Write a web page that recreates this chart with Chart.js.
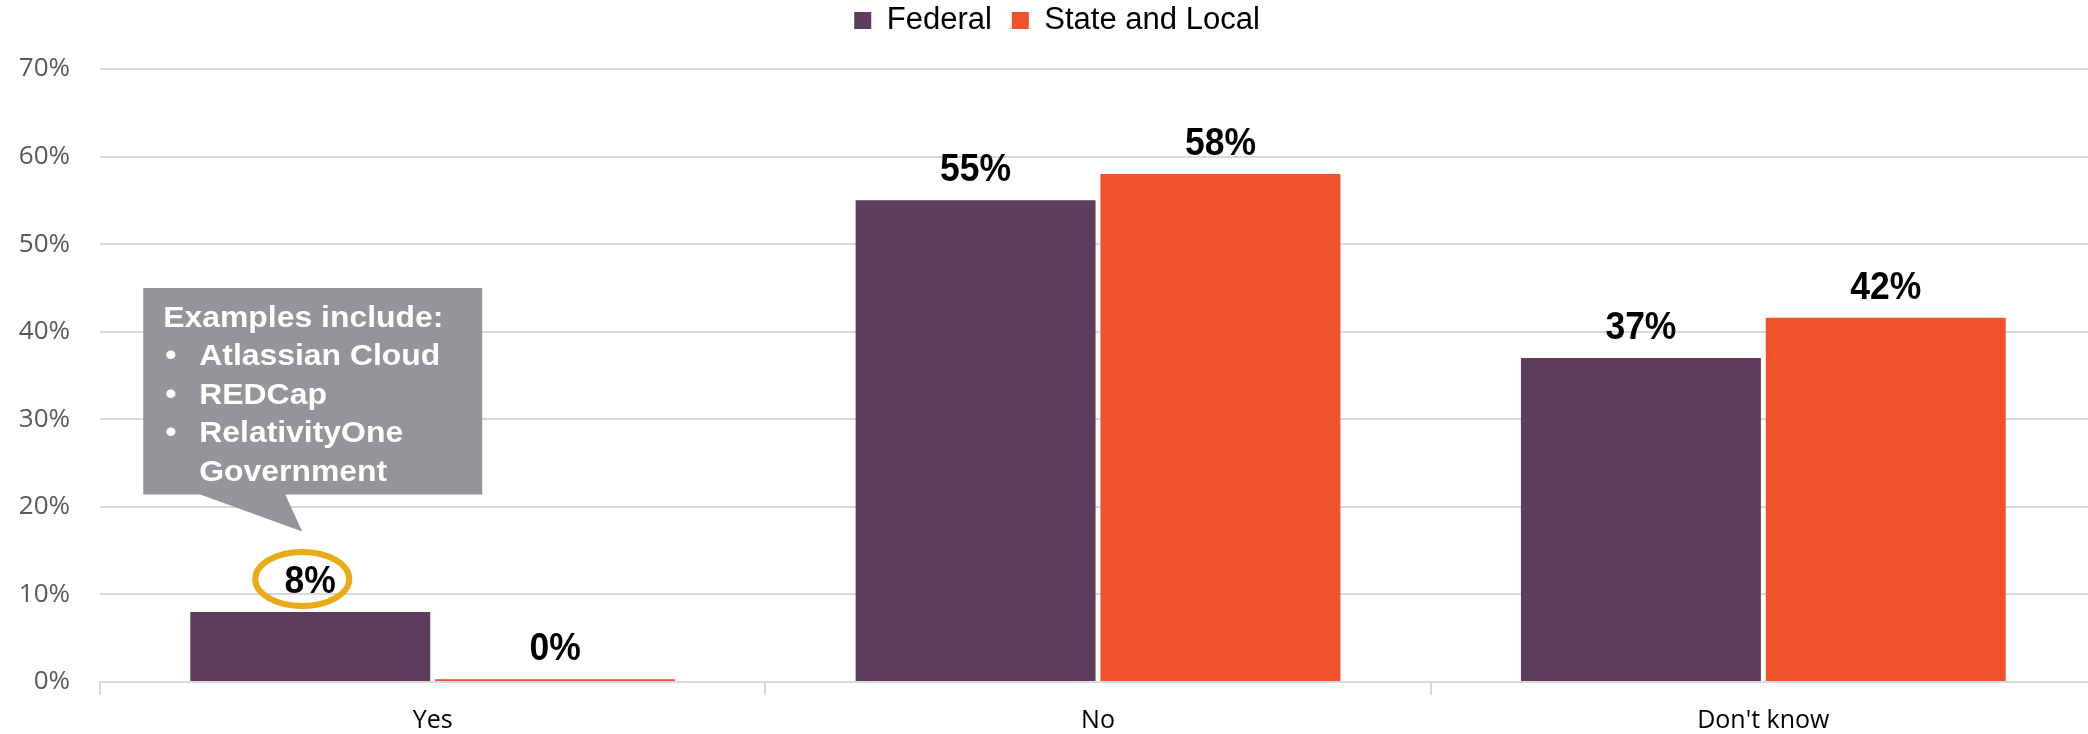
<!DOCTYPE html>
<html>
<head>
<meta charset="utf-8">
<script src="https://cdn.jsdelivr.net/npm/chart.js@4.4.1/dist/chart.umd.min.js"></script>
<style>
html, body { margin: 0; padding: 0; background: #fff; overflow: hidden; }
#wrap { width: 2096px; height: 734px; }
</style>
</head>
<body>
<div id="wrap"><canvas id="answerChart" width="2096" height="734"></canvas></div>
<script>
// values
const categories = ["Yes", "No", "Don't know"];
const federalVals = [8, 55, 37];
const stateLocalVals = [0.3, 58, 41.6];
const seriesNames = ["Federal", "State and Local"];
const calloutTitle = "Examples include:";
const calloutItems = [["Atlassian Cloud"], ["REDCap"], ["RelativityOne", "Government"]];

const labelFont = "'Liberation Sans', Arial, sans-serif";

// push the chart area down below the legend, nudge legend a bit right
const legendGap = {
    id: "legendGap",
    beforeInit(chart) {
        const lg = chart.legend;
        const origFit = lg.fit;
        const origDraw = lg.draw;
        lg.fit = function() { origFit.call(this); this.height += 23; };
        lg.draw = function() {
            const c = this.ctx;
            c.save();
            c.translate(9, 0);
            origDraw.call(this);
            c.restore();
        };
    }
};

// callout box + ring around the Federal "Yes" value
const callout = {
    id: "callout",
    afterDatasetsDraw(chart) {
        const ctx = chart.ctx;
        const y = chart.scales.y;
        const bar = chart.getDatasetMeta(0).data[0];
        if (!bar) return;
        const left = bar.x - 167, right = bar.x + 172;
        const top = y.getPixelForValue(45), bottom = y.getPixelForValue(21.4);
        ctx.save();
        ctx.fillStyle = "#949599";
        ctx.beginPath();
        ctx.moveTo(left, top);
        ctx.lineTo(right, top);
        ctx.lineTo(right, bottom);
        ctx.lineTo(bar.x - 25, bottom);
        ctx.lineTo(bar.x - 8, y.getPixelForValue(17.2));
        ctx.lineTo(bar.x - 110, bottom);
        ctx.lineTo(left, bottom);
        ctx.closePath();
        ctx.fill();

        ctx.fillStyle = "#fff";
        ctx.font = "bold 29px " + labelFont;
        ctx.textAlign = "left";
        ctx.textBaseline = "alphabetic";
        const put = (txt, x, yy) => {
            ctx.save();
            ctx.translate(x, yy);
            ctx.scale(1.1, 1);
            ctx.fillText(txt, 0, 0);
            ctx.restore();
        };
        let ly = top + 39;
        put(calloutTitle, left + 20, ly);
        calloutItems.forEach(item => {
            item.forEach((line, i) => {
                ly += 38.5;
                if (i === 0) put("\u2022", left + 22, ly);
                put(line, left + 56, ly);
            });
        });

        ctx.strokeStyle = "#e9ab17";
        ctx.lineWidth = 6;
        ctx.beginPath();
        ctx.ellipse(bar.x - 8, bar.y - 33, 47, 27, 0, 0, Math.PI * 2);
        ctx.stroke();
        ctx.restore();
    }
};

const valueLabels = {
    id: "valueLabels",
    afterDatasetsDraw(chart) {
        const ctx = chart.ctx;
        ctx.save();
        ctx.fillStyle = "#000";
        ctx.font = "bold 39px " + labelFont;
        ctx.textAlign = "center";
        ctx.textBaseline = "alphabetic";
        chart.data.datasets.forEach((ds, di) => {
            chart.getDatasetMeta(di).data.forEach((el, i) => {
                ctx.save();
                ctx.translate(el.x, el.y - 19);
                ctx.scale(0.91, 1);
                ctx.fillText(Math.round(ds.data[i]) + "%", 0, 0);
                ctx.restore();
            });
        });
        ctx.restore();
    }
};

new Chart(document.getElementById("answerChart").getContext("2d"), {
    type: "bar",
    data: {
        labels: categories,
        datasets: [
            { label: seriesNames[0], data: federalVals, backgroundColor: "#5d3c5c" },
            { label: seriesNames[1], data: stateLocalVals, backgroundColor: "#f0522b" }
        ]
    },
    options: {
        responsive: false,
        animation: false,
        devicePixelRatio: 1,
        categoryPercentage: 0.736,
        barPercentage: 0.98,
        layout: { padding: { top: -15, left: 0, right: 0, bottom: -13 } },
        plugins: {
            tooltip: { enabled: false },
            legend: {
                position: "top",
                labels: {
                    boxWidth: 17, boxHeight: 17, padding: 20, color: "#000",
                    font: { family: labelFont, size: 31 }
                }
            }
        },
        scales: {
            x: {
                grid: { drawOnChartArea: false, drawTicks: true, tickLength: 13, color: "#d9d9d9", lineWidth: 2 },
                border: { color: "#d9d9d9", width: 2 },
                ticks: { color: "#000", padding: 11, font: { family: "'Open Sans', sans-serif", size: 25 } }
            },
            y: {
                min: 0, max: 70,
                afterFit: s => { s.width = 100; },
                grid: { color: "#d9d9d9", lineWidth: 2, drawTicks: false },
                border: { display: false },
                ticks: {
                    stepSize: 10, padding: 30, color: "#595959",
                    font: { family: "'Open Sans', sans-serif", size: 26 },
                    callback: v => v + "%"
                }
            }
        }
    },
    plugins: [legendGap, callout, valueLabels]
});
</script>
</body>
</html>
